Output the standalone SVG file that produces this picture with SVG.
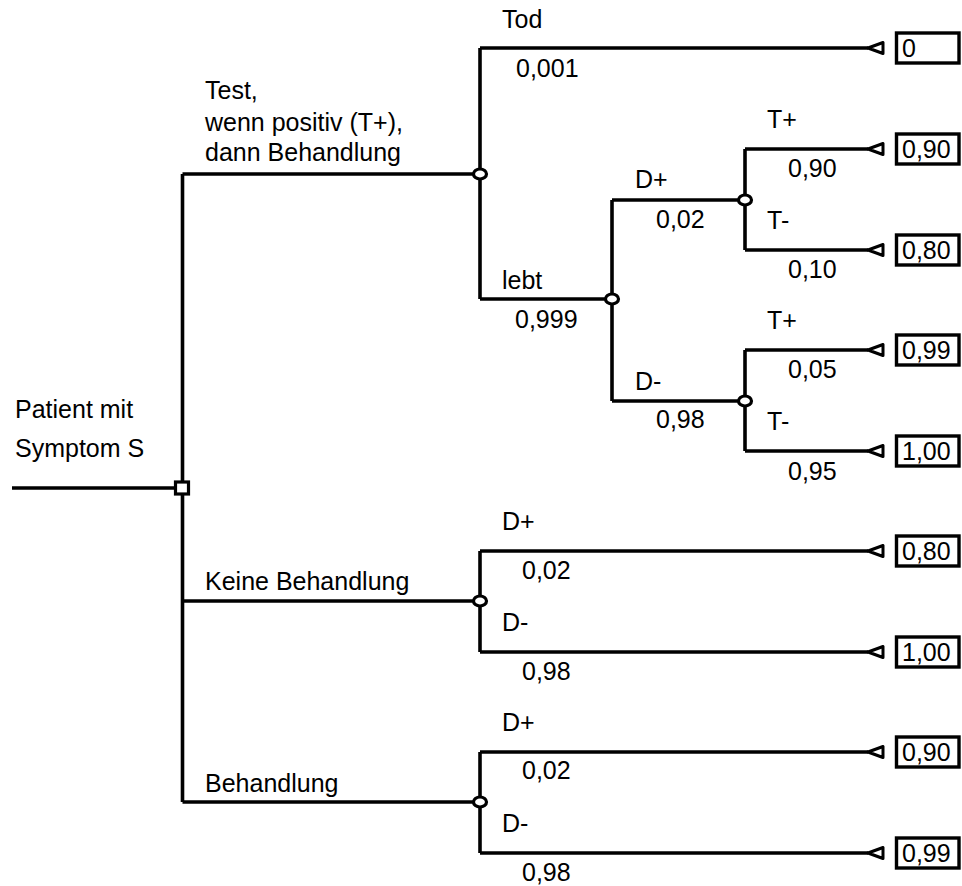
<svg xmlns="http://www.w3.org/2000/svg" width="962" height="886" viewBox="0 0 962 886">
  <style>
    text { font-family: "Liberation Sans", Arial, sans-serif; font-size: 25px; fill: #000; }
    .edge { stroke: #000; stroke-width: 3.6; fill: none; stroke-linecap: butt; }
    .chance { fill: #fff; stroke: #000; stroke-width: 3.2; }
    .decision { fill: #fff; stroke: #000; stroke-width: 3.2; }
    .tip { fill: #fff; stroke: #000; stroke-width: 3; stroke-linejoin: round; }
    .box { fill: #fff; stroke: #000; stroke-width: 3.4; }
  </style>
  <defs>
    <!-- terminal marker: small open triangle followed by an outcome box -->
    <g id="terminal">
      <polygon class="tip" points="868,0 883,-5.5 883,5.5"/>
      <rect class="box" x="896.5" y="-15" width="62.5" height="30"/>
    </g>
  </defs>

  <rect width="962" height="886" fill="#fff"/>

  <!-- connectors -->
  <g id="connectors">
    <!-- entry and decision trunk -->
    <line class="edge" x1="12" y1="488" x2="175" y2="488"/>
    <line class="edge" x1="182.5" y1="174" x2="182.5" y2="482"/>
    <line class="edge" x1="182.5" y1="494" x2="182.5" y2="802"/>
    <!-- option: test -->
    <line class="edge" x1="182.5" y1="174" x2="480" y2="174"/>
    <line class="edge" x1="480" y1="48" x2="480" y2="299"/>
    <line class="edge" x1="480" y1="48" x2="868" y2="48"/>
    <line class="edge" x1="480" y1="299" x2="612" y2="299"/>
    <line class="edge" x1="612" y1="200" x2="612" y2="401"/>
    <line class="edge" x1="612" y1="200" x2="745" y2="200"/>
    <line class="edge" x1="612" y1="401" x2="745" y2="401"/>
    <line class="edge" x1="745" y1="149" x2="745" y2="250"/>
    <line class="edge" x1="745" y1="149" x2="868" y2="149"/>
    <line class="edge" x1="745" y1="250" x2="868" y2="250"/>
    <line class="edge" x1="745" y1="350" x2="745" y2="451"/>
    <line class="edge" x1="745" y1="350" x2="868" y2="350"/>
    <line class="edge" x1="745" y1="451" x2="868" y2="451"/>
    <!-- option: no treatment -->
    <line class="edge" x1="182.5" y1="601" x2="480" y2="601"/>
    <line class="edge" x1="480" y1="551" x2="480" y2="652"/>
    <line class="edge" x1="480" y1="551" x2="868" y2="551"/>
    <line class="edge" x1="480" y1="652" x2="868" y2="652"/>
    <!-- option: treatment -->
    <line class="edge" x1="182.5" y1="802" x2="480" y2="802"/>
    <line class="edge" x1="480" y1="752" x2="480" y2="853"/>
    <line class="edge" x1="480" y1="752" x2="868" y2="752"/>
    <line class="edge" x1="480" y1="853" x2="868" y2="853"/>
  </g>

  <!-- edge labels -->
  <g id="labels">
    <text x="15" y="418">Patient mit</text>
    <text x="15" y="457">Symptom S</text>

    <text x="205" y="99">Test,</text>
    <text x="205" y="131">wenn positiv (T+),</text>
    <text x="205" y="161">dann Behandlung</text>

    <text x="502" y="28">Tod</text>
    <text x="516" y="77">0,001</text>
    <text x="502" y="289">lebt</text>
    <text x="515" y="328">0,999</text>

    <text x="635" y="188">D+</text>
    <text x="656" y="228">0,02</text>
    <text x="635" y="390">D-</text>
    <text x="656" y="428">0,98</text>

    <text x="767" y="128">T+</text>
    <text x="788" y="177">0,90</text>
    <text x="767" y="229">T-</text>
    <text x="788" y="278">0,10</text>
    <text x="767" y="329">T+</text>
    <text x="788" y="378">0,05</text>
    <text x="767" y="430">T-</text>
    <text x="788" y="480">0,95</text>

    <text x="205" y="590">Keine Behandlung</text>
    <text x="502" y="530">D+</text>
    <text x="522" y="579">0,02</text>
    <text x="502" y="631">D-</text>
    <text x="522" y="680">0,98</text>

    <text x="205" y="792">Behandlung</text>
    <text x="502" y="731">D+</text>
    <text x="522" y="779">0,02</text>
    <text x="502" y="832">D-</text>
    <text x="522" y="881">0,98</text>
  </g>

  <!-- decision node -->
  <g id="decision-root">
    <rect class="decision" x="175.5" y="482" width="13" height="12"/>
  </g>

  <!-- chance nodes -->
  <g id="chance-test"><ellipse class="chance" cx="480" cy="174" rx="6.5" ry="5"/></g>
  <g id="chance-lebt"><ellipse class="chance" cx="612" cy="299" rx="6.5" ry="5"/></g>
  <g id="chance-dplus"><ellipse class="chance" cx="745" cy="200" rx="6.5" ry="5"/></g>
  <g id="chance-dminus"><ellipse class="chance" cx="745" cy="401" rx="6.5" ry="5"/></g>
  <g id="chance-keine"><ellipse class="chance" cx="480" cy="601" rx="6.5" ry="5"/></g>
  <g id="chance-behandlung"><ellipse class="chance" cx="480" cy="802" rx="6.5" ry="5"/></g>

  <!-- terminal nodes with outcome values -->
  <g id="term-tod"><use href="#terminal" y="48"/><text x="902" y="57">0</text></g>
  <g id="term-dp-tp"><use href="#terminal" y="149"/><text x="902" y="158">0,90</text></g>
  <g id="term-dp-tm"><use href="#terminal" y="250"/><text x="902" y="259">0,80</text></g>
  <g id="term-dm-tp"><use href="#terminal" y="350"/><text x="902" y="359">0,99</text></g>
  <g id="term-dm-tm"><use href="#terminal" y="451"/><text x="902" y="460">1,00</text></g>
  <g id="term-keine-dp"><use href="#terminal" y="551"/><text x="902" y="560">0,80</text></g>
  <g id="term-keine-dm"><use href="#terminal" y="652"/><text x="902" y="661">1,00</text></g>
  <g id="term-beh-dp"><use href="#terminal" y="752"/><text x="902" y="761">0,90</text></g>
  <g id="term-beh-dm"><use href="#terminal" y="853"/><text x="902" y="862">0,99</text></g>
</svg>
